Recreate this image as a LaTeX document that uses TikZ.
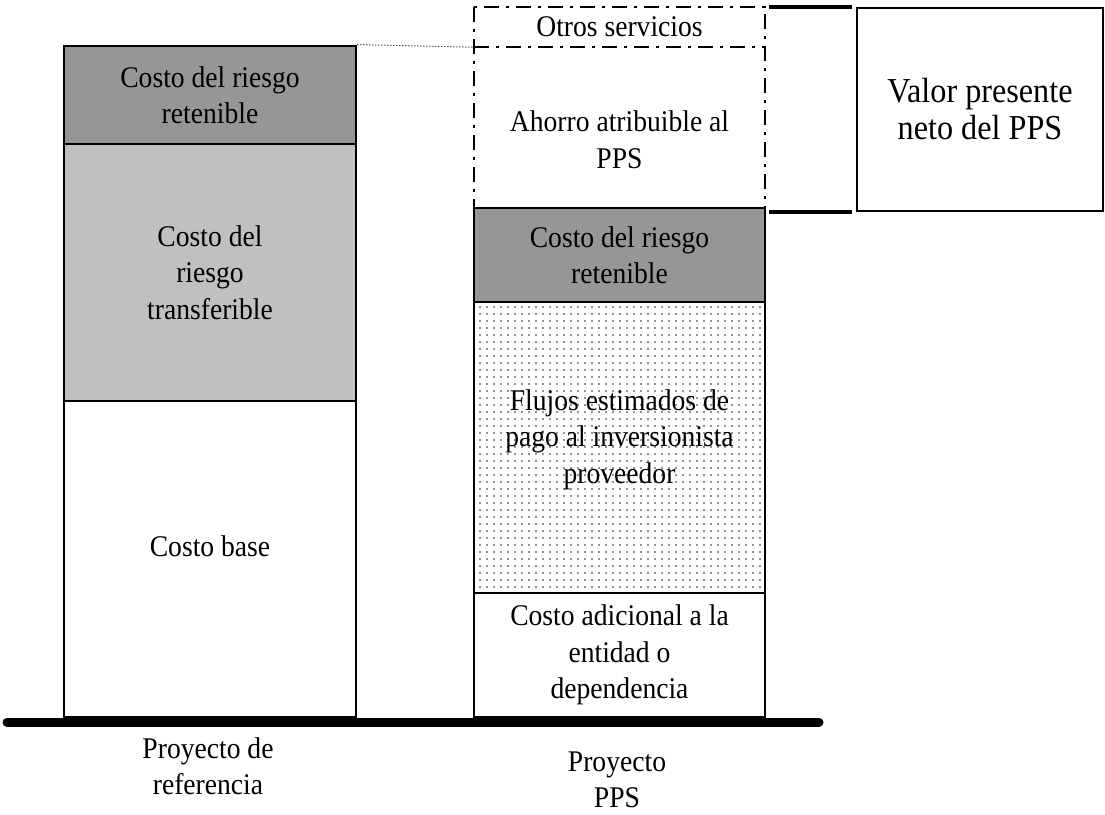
\documentclass[tikz,border=0pt]{standalone}
\usepackage{fontspec}
\setmainfont{Liberation Serif}[FakeStretch=0.92]
\definecolor{darkgr}{RGB}{150,150,150}
\definecolor{lightgr}{RGB}{192,192,192}
\begin{document}
\begin{tikzpicture}[x=1pt,y=-1pt,
  txt/.style={align=center, inner sep=0pt, font=\fontsize{30}{36.5}\selectfont},
  blk/.style={txt, draw=black, line width=2.8pt, rectangle},
  lcol/.style={blk, minimum width=292pt},
  rcol/.style={blk, minimum width=291pt},
  hidden/.style={txt, rectangle, minimum width=291pt},
  dashdot/.style={line width=2.4pt, dash pattern=on 15pt off 7pt on 3pt off 7pt},
  bracket/.style={line width=4.5pt},
  baseln/.style={line width=9pt, line cap=round},
  dotfill/.style={fill=black!85}]
\useasboundingbox (0,0) rectangle (1105,814);
% left column
\node[lcol, fill=darkgr, minimum height=98pt] (lret) at (210,95) {Costo del riesgo\\retenible};
\node[lcol, fill=lightgr, minimum height=257pt] (ltrans) at (210,272.5) {Costo del\\riesgo\\transferible};
\node[lcol, fill=white, minimum height=316pt] (lbase) at (210,559) {};
\node[txt] (lbaset) at ([yshift=13pt]lbase.center) {Costo base};
% right column, dash-dot part
\node[hidden, minimum height=40pt] (otros) at (619.5,27) {Otros servicios};
\node[hidden, minimum height=161pt] (ahorro) at (619.5,127.5) {};
\node[txt] (ahorrot) at ([yshift=-12pt]ahorro.center) {Ahorro atribuible al\\PPS};
\draw[dashdot] (otros.north west) rectangle (ahorro.south east);
\draw[dashdot] (otros.south west) -- (otros.south east);
% right column, solid part
\node[rcol, fill=darkgr, minimum height=94pt] (rret) at (619.5,255) {Costo del riesgo\\retenible};
\node[rcol, fill=white, minimum height=291pt] (flujos) at (619.5,447.5) {};
\foreach \i in {0,...,40} {
  \foreach \j in {0,...,40} {
    \fill[dotfill] (480+7*\i, 307+7*\j) circle[radius=0.8pt];
  }
}
\node[txt] (flujost) at ([yshift=8pt]flujos.center) {Flujos estimados de\\pago al inversionista\\proveedor};
\node[rcol, fill=white, minimum height=124pt] (radic) at (619.5,655) {Costo adicional a la\\entidad o\\dependencia};
% dotted connector
\draw[dotted, line width=1pt] (lret.north east) -- (otros.south west);
% valor box and bracket
\node[txt, draw=black, line width=1.8pt, minimum width=246pt, minimum height=203pt, font=\fontsize{35}{37}\selectfont] (valor) at (980,109.5) {Valor presente\\neto del PPS};
\coordinate (bt1) at ([xshift=-87pt]valor.north west);
\coordinate (bt2) at ([xshift=-4pt]valor.north west);
\coordinate (bb1) at ([xshift=-87pt]valor.south west);
\coordinate (bb2) at ([xshift=-4pt]valor.south west);
\draw[bracket] (bt1) -- (bt2);
\draw[bracket] (bb1) -- (bb2);
% baseline
\coordinate (bl) at (7,722);
\coordinate (br) at (819,722);
\draw[baseln] (bl) -- (br);
% labels
\node[txt] (lab1) at (208,766) {Proyecto de\\referencia};
\node[txt] (lab2) at (617,780) {Proyecto\\PPS};
\end{tikzpicture}
\end{document}
